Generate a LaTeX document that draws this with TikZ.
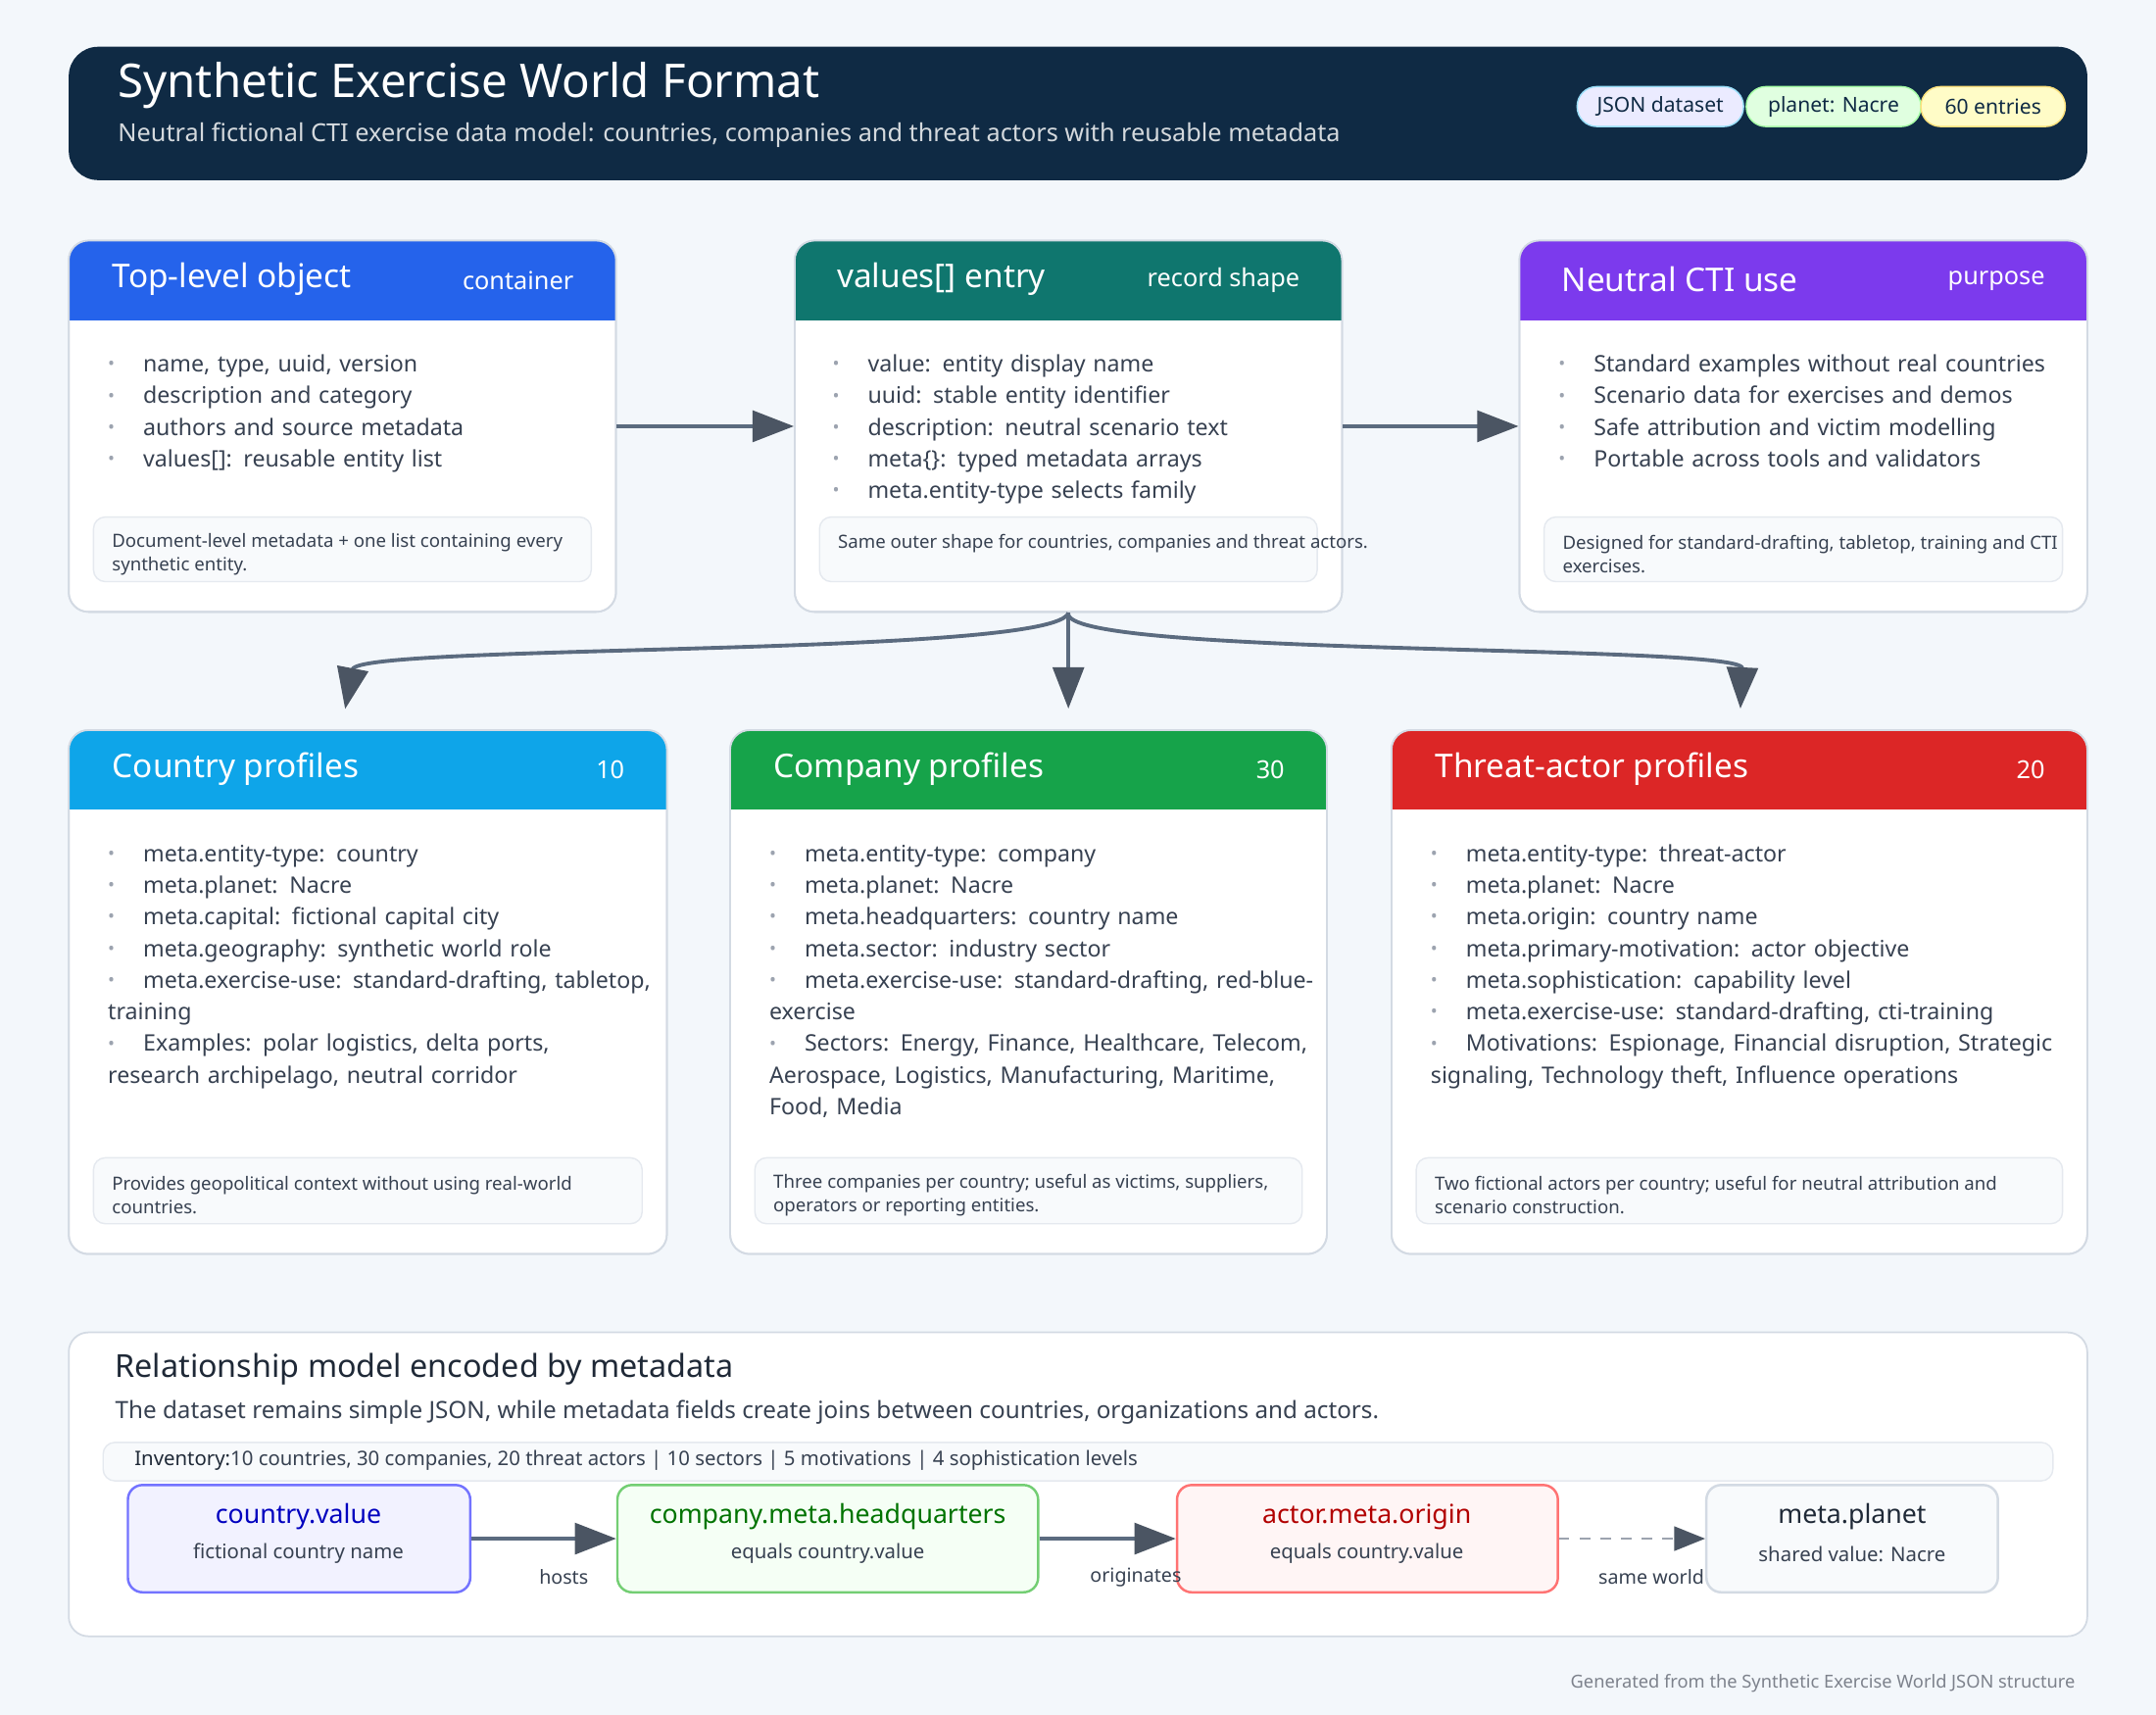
\documentclass[tikz,border=0pt]{standalone}
\usepackage{fontspec}
\setmainfont{Noto Sans}
\usetikzlibrary{arrows.meta,fit,positioning}

\definecolor{pagebg}{HTML}{F3F7FB}
\definecolor{navy}{HTML}{0F2A44}
\definecolor{inkdark}{HTML}{1F2937}
\definecolor{inkbody}{HTML}{374151}
\definecolor{dotgray}{HTML}{9CA3AF}
\definecolor{cardedge}{HTML}{D3DAE3}
\definecolor{notefill}{HTML}{F8FAFC}
\definecolor{noteedge}{HTML}{E5E9EF}
\definecolor{arrowgray}{HTML}{4B5563}
\definecolor{linegray}{HTML}{5B6B7F}
\definecolor{hdblue}{HTML}{2563EB}
\definecolor{hdteal}{HTML}{0F766E}
\definecolor{hdpurple}{HTML}{7C3AED}
\definecolor{hdsky}{HTML}{0EA5E9}
\definecolor{hdgreen}{HTML}{16A34A}
\definecolor{hdred}{HTML}{DC2626}

\newcommand\fs[2]{\fontsize{#1}{#2}\selectfont}
\newcommand\bl[1]{\par\hangindent=3.6mm\hangafter=1\noindent\makebox[3.6mm][l]{\textcolor{dotgray}{\raisebox{0.15ex}{\scalebox{0.8}{\textbullet}}}}#1}

\tikzset{
  cardbox/.style={draw=cardedge, fill=white, line width=0.5pt, rounded corners=0.2cm, inner sep=0pt},
  cardtitle/.style={anchor=west, text=white, font=\bfseries\fs{9.5}{11}},
  cardtag/.style={anchor=east, text=white, font=\bfseries\fs{7.2}{9}},
  bullets/.style={anchor=north west, align=left, text width=6.8cm, text=inkbody, font=\fs{6.6}{9.2}, inner sep=0pt},
  notebox/.style={draw=noteedge, fill=notefill, line width=0.4pt, rounded corners=0.12cm, inner sep=0pt},
  notetext/.style={anchor=west, align=left, text=inkbody, font=\fs{5.3}{6.9}, inner sep=0pt},
  pill/.style={draw=#1!70!black!40, rounded corners=0.2cm, inner sep=0pt},
  flow/.style={draw=linegray, line width=1.1pt, -{Triangle[width=9pt,length=12pt,color=arrowgray]}},
  linkbox/.style={rounded corners=0.15cm, line width=0.7pt, inner sep=0pt},
  linktitle/.style={font=\bfseries\fs{7.6}{9}},
  linksub/.style={font=\fs{5.8}{7}, text=inkbody},
  linklabel/.style={font=\bfseries\fs{5.6}{7}, text=inkbody}
}

\newcommand\cardframe[6]{%
  \node[cardbox, fit={(#2,#3)(#4,#5)}] (#1) {};
  \begin{scope}
    \clip[rounded corners=0.2cm] (#2,#3) rectangle (#4,#5);
    \fill[#6] (#2,#3) rectangle (#4,{#3+58});
  \end{scope}
  \draw[cardedge, line width=0.5pt, rounded corners=0.2cm] (#2,#3) rectangle (#4,#5);}

\begin{document}
\begin{tikzpicture}[x=0.014031cm, y=-0.014031cm]
  % page
  \fill[pagebg] (0,0) rectangle (1568,1247);
  \useasboundingbox (0,0) rectangle (1568,1247);

  % banner
  \fill[navy, rounded corners=0.3cm] (50,34) rectangle (1518,131);
  \node[anchor=west, text=white, font=\bfseries\fs{13.5}{16}] (title) at (77,62) {Synthetic Exercise World Format};
  \node[anchor=west, text=white!82!navy, font=\fs{7.2}{9}] (subtitle) at (77,98) {Neutral fictional CTI exercise data model: countries, companies and threat actors with reusable metadata};
  \filldraw[fill=blue!8, draw=cyan!40, rounded corners=0.2cm] (1147,63) rectangle (1268,92);
  \node[font=\bfseries\fs{6}{7}, text=navy] (pjson) at (1207.5,77.5) {JSON dataset};
  \filldraw[fill=green!12, draw=green!35, rounded corners=0.2cm] (1270,63) rectangle (1397,92);
  \node[font=\bfseries\fs{6}{7}, text=navy] (pplanet) at (1333.5,77.5) {planet: Nacre};
  \filldraw[fill=yellow!22, draw=yellow!60!orange!50, rounded corners=0.2cm] (1397,63) rectangle (1502,92);
  \node[font=\bfseries\fs{6}{7}, text=navy] (pcount) at (1449.5,77.5) {60 entries};

  % top row
  \cardframe{top}{50}{175}{448}{445}{hdblue}
  \node[cardtitle] at (73,203) {Top-level object};
  \node[cardtag] at (426,204) {container};
  \node[bullets] at (78,247) {\bl{name, type, uuid, version}\bl{description and category}\bl{authors and source metadata}\bl{values[]: reusable entity list}};
  \node[notebox, fit={(68,376)(430,423)}] (topnote) {};
  \node[notetext] at (81,403) {Document-level metadata + one list containing every\\synthetic entity.};

  \cardframe{entry}{578}{175}{976}{445}{hdteal}
  \node[cardtitle] at (600,203) {values[] entry};
  \node[cardtag] at (954,204) {record shape};
  \node[bullets] at (605,247) {\bl{value: entity display name}\bl{uuid: stable entity identifier}\bl{description: neutral scenario text}\bl{meta\{\}: typed metadata arrays}\bl{meta.entity-type selects family}};
  \node[notebox, fit={(596,376)(958,423)}] (entrynote) {};
  \node[notetext] at (609,395) {Same outer shape for countries, companies and threat actors.};

  \cardframe{use}{1105}{175}{1518}{445}{hdpurple}
  \node[cardtitle] at (1127,203) {Neutral CTI use};
  \node[cardtag] at (1496,204) {purpose};
  \node[bullets] at (1133,247) {\bl{Standard examples without real countries}\bl{Scenario data for exercises and demos}\bl{Safe attribution and victim modelling}\bl{Portable across tools and validators}};
  \node[notebox, fit={(1123,376)(1500,423)}] (usenote) {};
  \node[notetext] at (1136,403) {Designed for standard-drafting, tabletop, training and CTI\\exercises.};

  % second row
  \cardframe{country}{50}{531}{485}{912}{hdsky}
  \node[cardtitle] at (73,559) {Country profiles};
  \node[cardtag] at (463,560) {10};
  \node[bullets] at (78,603) {\bl{meta.entity-type: country}\bl{meta.planet: Nacre}\bl{meta.capital: fictional capital city}\bl{meta.geography: synthetic world role}\bl{meta.exercise-use: standard-drafting, tabletop,\\training}\bl{Examples: polar logistics, delta ports,\\research archipelago, neutral corridor}};
  \node[notebox, fit={(68,842)(467,890)}] (countrynote) {};
  \node[notetext] at (81,869) {Provides geopolitical context without using real-world\\countries.};

  \cardframe{company}{531}{531}{965}{912}{hdgreen}
  \node[cardtitle] at (554,559) {Company profiles};
  \node[cardtag] at (943,560) {30};
  \node[bullets] at (559,603) {\bl{meta.entity-type: company}\bl{meta.planet: Nacre}\bl{meta.headquarters: country name}\bl{meta.sector: industry sector}\bl{meta.exercise-use: standard-drafting, red-blue-\\exercise}\bl{Sectors: Energy, Finance, Healthcare, Telecom,\\Aerospace, Logistics, Manufacturing, Maritime,\\Food, Media}};
  \node[notebox, fit={(549,842)(947,890)}] (companynote) {};
  \node[notetext] at (562,869) {Three companies per country; useful as victims, suppliers,\\operators or reporting entities.};

  \cardframe{actor}{1012}{531}{1518}{912}{hdred}
  \node[cardtitle] at (1035,559) {Threat-actor profiles};
  \node[cardtag] at (1496,560) {20};
  \node[bullets, text width=7.5cm] at (1040,603) {\bl{meta.entity-type: threat-actor}\bl{meta.planet: Nacre}\bl{meta.origin: country name}\bl{meta.primary-motivation: actor objective}\bl{meta.sophistication: capability level}\bl{meta.exercise-use: standard-drafting, cti-training}\bl{Motivations: Espionage, Financial disruption, Strategic\\signaling, Technology theft, Influence operations}};
  \node[notebox, fit={(1030,842)(1500,890)}] (actornote) {};
  \node[notetext] at (1043,869) {Two fictional actors per country; useful for neutral attribution and\\scenario construction.};

  % connectors between cards
  \draw[flow] (top.east) -- (entry.west);
  \draw[flow] (entry.east) -- (use.west);
  \draw[flow, shorten >=6pt] (entry.south) .. controls (769,478) and (260,468) .. ([xshift=-7\pgflinewidth]country.north);
  \draw[flow, shorten >=6pt] (entry.south) -- (entry.south |- company.north);
  \draw[flow, shorten >=6pt] (entry.south) .. controls (769,478) and (1268,468) .. (actor.north);

  % relationship panel
  \node[cardbox, fit={(50,969)(1518,1190)}] (panel) {};
  \node[anchor=west, text=inkdark, font=\bfseries\fs{9.2}{11}] (ptitle) at (75,996) {Relationship model encoded by metadata};
  \node[anchor=west, text=inkbody, font=\fs{6.9}{8.5}] (psub) at (75,1027) {The dataset remains simple JSON, while metadata fields create joins between countries, organizations and actors.};
  \filldraw[fill=notefill, draw=noteedge, rounded corners=0.12cm] (75,1049) rectangle (1493,1077);
  \node[anchor=west, text=inkbody, font=\bfseries\fs{5.8}{7}] (inventory) at (89,1062) {\textcolor{inkdark}{Inventory:}10 countries, 30 companies, 20 threat actors | 10 sectors | 5 motivations | 4 sophistication levels};

  \node[linkbox, draw=blue!55, fill=blue!5, fit={(93,1080)(342,1158)}] (cval) {};
  \node[linktitle, text=blue!75!black] at (217,1103) {country.value};
  \node[linksub] at (217,1130) {fictional country name};
  \node[linkbox, draw=green!65!black!55, fill=green!4, fit={(449,1080)(755,1158)}] (chq) {};
  \node[linktitle, text=green!45!black] at (602,1103) {company.meta.headquarters};
  \node[linksub] at (602,1130) {equals country.value};
  \node[linkbox, draw=red!55, fill=red!4, fit={(856,1080)(1133,1158)}] (aorig) {};
  \node[linktitle, text=red!70!black] at (994,1103) {actor.meta.origin};
  \node[linksub] at (994,1130) {equals country.value};
  \node[linkbox, draw=cardedge, fill=notefill, fit={(1241,1080)(1453,1158)}] (mplanet) {};
  \node[linktitle, text=inkdark] at (1347,1103) {meta.planet};
  \node[linksub] at (1347,1130) {shared value: Nacre};

  \draw[flow] (cval.east) -- (chq.west);
  \draw[flow] (chq.east) -- (aorig.west);
  \draw[flow, dashed, line width=0.8pt, draw=dotgray, -{Triangle[width=7pt,length=9pt,color=arrowgray]}] (aorig.east) -- (mplanet.west);
  \node[linklabel] (lhosts) at (410,1147) {hosts};
  \node[linklabel] (lorig) at (826,1147) {originates};
  \node[linklabel] (lsame) at (1201,1147) {same world};

  % footer
  \node[anchor=east, text=dotgray!80!black, font=\fs{5.2}{6}] (footer) at (1518,1224) {Generated from the Synthetic Exercise World JSON structure};
\end{tikzpicture}
\end{document}
